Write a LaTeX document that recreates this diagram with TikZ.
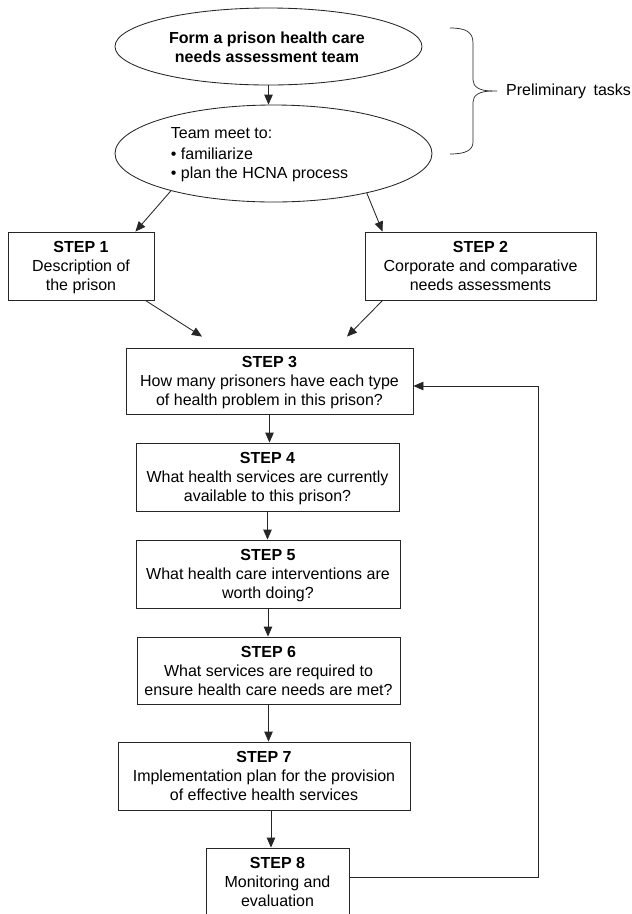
\documentclass[tikz,border=0pt]{standalone}
\usepackage{fontspec}
\setmainfont{Liberation Sans}
\usetikzlibrary{shapes.geometric,arrows.meta,calc}
\newcommand{\stepcontent}[3]{\rule{0pt}{15.6pt}\textbf{STEP #1}\\#2\\#3\rule[-4pt]{0pt}{4pt}}
\begin{document}
\begin{tikzpicture}[x=1pt,y=-1pt,
  every node/.style={font=\fontsize{16}{19}\selectfont, text=black},
  ln/.style={draw=black!85, line width=0.85pt},
  arr/.style={ln, -{Triangle[length=10pt,width=8.5pt]}},
  oval/.style={ellipse, ln, inner sep=0pt},
  stepbox/.style={rectangle, ln, inner sep=0pt, align=center},
  plain/.style={inner sep=0pt, align=left}]
\useasboundingbox (0,0) rectangle (632,914);
\fill[white] (0,0) rectangle (632,914);

% ellipses
\node[oval, minimum width=307pt, minimum height=77pt] (e1) at (268.5,46.5) {};
\node[inner sep=0pt, align=center, font=\fontsize{16}{19}\selectfont\bfseries] (e1t) at (267,47) {Form a prison health care\\needs assessment team};
\node[oval, minimum width=317pt, minimum height=97pt] (e2) at (273.5,153.5) {};
\node[plain] (e2t) at (259.5,154.5) {Team meet to:\\[1.5pt]\textbullet\ familiarize\\\textbullet\ plan the HCNA process};

% brace
\coordinate (bt) at (450,28);
\coordinate (bb) at (450,154);
\coordinate (btip) at (492,91);
\draw[ln, line width=0.7pt] (bt) .. controls (466,28) and (473,32) .. (473,43) -- (473,80)
  .. controls (473,87) and (480,91) .. (btip) -- (497,91);
\draw[ln, line width=0.7pt] (btip) .. controls (480,91) and (473,95) .. (473,102) -- (473,142)
  .. controls (473,150) and (466,154) .. (bb);
\node[inner sep=0pt, anchor=west] (prel) at (506,91) {Preliminary\kern3pt{} tasks};

% step boxes
\node[stepbox, minimum width=146pt, minimum height=68pt] (s1) at (81,266)
  {\stepcontent{1}{Description of}{the prison}};
\node[stepbox, minimum width=231pt, minimum height=68pt] (s2) at (480.5,266)
  {\stepcontent{2}{Corporate and comparative}{needs assessments}};
\node[stepbox, minimum width=287pt, minimum height=66pt] (s3) at (269.5,381)
  {\stepcontent{3}{How many prisoners have each type}{of health problem in this prison?}};
\node[stepbox, minimum width=263pt, minimum height=68pt] (s4) at (267.5,477)
  {\stepcontent{4}{What health services are currently}{available to this prison?}};
\node[stepbox, minimum width=264pt, minimum height=68pt] (s5) at (268,574)
  {\stepcontent{5}{What health care interventions are}{worth doing?}};
\node[stepbox, minimum width=263pt, minimum height=67pt] (s6) at (268.5,670.5)
  {\stepcontent{6}{What services are required to}{ensure health care needs are met?}};
\node[stepbox, minimum width=292pt, minimum height=68pt] (s7) at (264,776)
  {\stepcontent{7}{Implementation plan for the provision}{of effective health services}};
\node[stepbox, minimum width=143pt, minimum height=68pt] (s8) at (277.5,882)
  {\stepcontent{8}{Monitoring and}{evaluation}};

% connectors
\draw[arr] (e1.south) -- (e1.south |- e2.north);
\draw[arr] (e2.200) -- ($(s1.north east)+(-19,0)$);
\draw[arr] (e2.337) -- ($(s2.north west)+(18,0)$);
\coordinate (in1) at ($(s3.north)+(-67.5,-11)$);
\coordinate (in2) at ($(s3.north)+(77.5,-11)$);
\draw[arr] ($(s1.south east)+(-9,0)$) -- (in1);
\draw[arr] ($(s2.south west)+(18,0)$) -- (in2);
\draw[arr] (s3.south) -- (s3.south |- s4.north);
\draw[arr] (s4.south) -- (s4.south |- s5.north);
\draw[arr] (s5.south) -- (s5.south |- s6.north);
\draw[arr] (s6.south) -- (s6.south |- s7.north);
\coordinate (a78) at ($(s7.south)+(7,0)$);
\draw[arr] (a78) -- (a78 |- s8.north);
% feedback loop
\coordinate (s8out) at ($(s8.east)+(0,-5)$);
\coordinate (fbtop) at (538,386);
\draw[arr] (s8out) -| (fbtop) -- (s3.east |- fbtop);
\end{tikzpicture}
\end{document}
